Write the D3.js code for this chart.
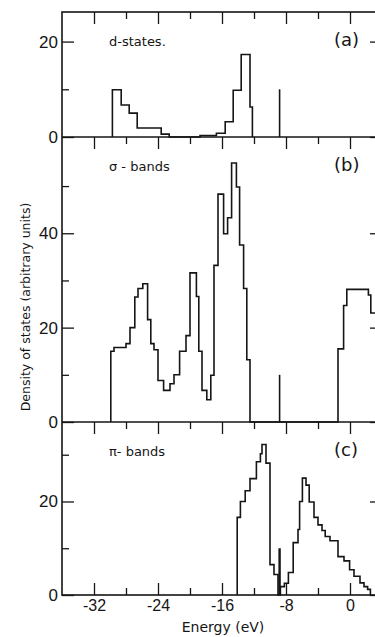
<!DOCTYPE html>
<html lang="en">
<head>
<meta charset="UTF-8">
<title>Density of states</title>
<style>
  body { margin: 0; background: #fff; }
  svg { display: block; font-family: "DejaVu Sans", sans-serif; }
  .frame, .hist { fill: none; stroke: #151515; stroke-width: 1.6px; }
  .spike { stroke: #151515; stroke-width: 1.6px; }
  .tick line { stroke: #151515; stroke-width: 1.3px; }
  .tick text { fill: #151515; }
  .domain { display: none; }
  .lbl { fill: #151515; }
</style>
</head>
<body>
<div id="chart"></div>
<script src="https://cdn.jsdelivr.net/npm/d3@7/dist/d3.min.js"></script>
<script>
// (a) d-states : bin edges (eV) and heights
const dEdges  = [-29.7, -28.6, -27.6, -26.6, -23.6, -22.6, -18.75, -16.7, -15.6, -14.6, -13.6, -12.5, -12.2];
const dValues = [9.9, 6.7, 5.0, 1.9, 0.6, 0, 0.3, 0.8, 3.2, 9.8, 17.3, 6.3];

// (b) sigma bands
const sigmaEdges = [-29.9, -29.5, -28.0, -27.5, -26.9, -26.5, -25.9, -25.3, -24.9, -24.5, -24.0,
  -23.3, -22.5, -22.0, -21.3, -20.5, -20.0, -19.2, -18.9, -18.5, -17.9, -17.4, -17.0, -16.5,
  -15.8, -15.3, -14.8, -14.2, -13.8, -13.3, -12.9, -12.5, -1.5, -0.8, -0.4, 2.3, 2.6, 4];
const sigmaValues = [15, 15.8, 16.6, 20, 26.5, 28.3, 29.3, 21.7, 16.6, 15.3, 8.8, 6.7, 8.1, 10,
  15, 18.3, 31.6, 26.6, 15, 6.7, 4.7, 9.9, 33.2, 48.3, 39.9, 43.3, 54.9, 49.8, 37.5, 28.3, 13.2,
  0, 15.5, 24.7, 28.1, 26.9, 23.1];

// (c) pi bands
const piEdges = [-14.1, -13.7, -13.1, -12.5, -11.7, -11.2, -11.0, -10.5, -10.0, -9.5, -9.0, -8.7,
  -8.2, -7.7, -7.1, -6.5, -6.3, -5.95, -5.5, -5.1, -4.5, -4.0, -3.5, -3.1, -2.5, -1.5, -0.75,
  -0.05, 0.5, 1.25, 1.75, 2.2, 2.55];
const piValues = [16.6, 20, 22.3, 24.9, 28.5, 30.2, 32.2, 28.2, 6.5, 4.4, 0, 1.8, 2.5, 4.8, 11.2,
  14, 20, 25, 23.5, 19.9, 16.6, 15.0, 13.8, 12.5, 11.6, 8.2, 7.3, 5.4, 4.0, 2.6, 1.8, 1.2];

// sharp line drawn in every panel
const spikeE = -8.8;
const spikeHeights = [10, 10, 10];

// ticks
const xMajor = [-32, -24, -16, -8, 0];
const xMinor = [-28, -20, -12, -4];
const xLabels = ["-32", "-24", "-16", "-8", "0"];
const yMax = [26.2, 60.4, 37];
const yMajor = [[0, 20], [0, 20, 40], [0, 20]];
const yMinor = [[10], [10, 30, 50], [10, 30]];
const panelNames = ["d-states.", "σ - bands", "π- bands"];
const panelTags = ["(a)", "(b)", "(c)"];

const width = 375, height = 637;
const left = 62, right = 382;
const rows = [[12, 137], [137, 422], [422, 595]];

const svg = d3.select("#chart").append("svg")
  .attr("width", width)
  .attr("height", height);

const x = d3.scaleLinear().domain([-36, 4]).range([left, right]);

const series = [[dEdges, dValues], [sigmaEdges, sigmaValues], [piEdges, piValues]];

series.forEach(([edges, vals], i) => {
  const [top, bottom] = rows[i];
  const y = d3.scaleLinear().domain([0, yMax[i]]).range([bottom, top]);
  const g = svg.append("g");

  // step outline of the histogram
  const pts = [[edges[0], 0]];
  vals.forEach((v, k) => pts.push([edges[k], v]));
  pts.push([edges[edges.length - 1], 0]);
  const line = d3.line()
    .x(d => x(d[0]))
    .y(d => y(d[1]))
    .curve(d3.curveStepAfter);
  g.append("path").attr("class", "hist").attr("d", line(pts));

  g.append("line").attr("class", "spike")
    .attr("x1", x(spikeE)).attr("x2", x(spikeE))
    .attr("y1", y(0)).attr("y2", y(spikeHeights[i]))
    .style("stroke-width", i === 2 ? 2.4 : 1.6);

  // x ticks at the top of each panel, pointing down
  g.append("g").attr("transform", `translate(0,${top})`)
    .call(d3.axisBottom(x).tickValues(xMajor).tickSize(12).tickFormat(""));
  g.append("g").attr("transform", `translate(0,${top})`)
    .call(d3.axisBottom(x).tickValues(xMinor).tickSize(7).tickFormat(""));

  // y ticks, inside on both sides
  g.append("g").attr("transform", `translate(${left},0)`)
    .call(d3.axisLeft(y).tickValues(yMajor[i]).tickSizeInner(-12).tickSizeOuter(0)
      .tickPadding(4).tickFormat(d3.format("d")))
    .selectAll("text").style("font-size", "17px");
  g.append("g").attr("transform", `translate(${left},0)`)
    .call(d3.axisLeft(y).tickValues(yMinor[i]).tickSizeInner(-7).tickFormat(""));
  g.append("g").attr("transform", `translate(${right},0)`)
    .call(d3.axisRight(y).tickValues(yMajor[i]).tickSizeInner(-12).tickFormat(""));
  g.append("g").attr("transform", `translate(${right},0)`)
    .call(d3.axisRight(y).tickValues(yMinor[i]).tickSizeInner(-7).tickFormat(""));

  g.append("text").attr("class", "lbl")
    .attr("x", 109).attr("y", top + 34)
    .style("font-size", "13px")
    .text(panelNames[i]);
  g.append("text").attr("class", "lbl")
    .attr("x", 334).attr("y", top + 34)
    .style("font-size", "18px")
    .text(panelTags[i]);
});

// bottom axis with labels
svg.append("g").attr("transform", `translate(0,${rows[2][1]})`)
  .call(d3.axisBottom(x).tickValues(xMajor).tickSizeInner(-12).tickSizeOuter(0)
    .tickPadding(5).tickFormat((d, k) => xLabels[k]))
  .selectAll("text").style("font-size", "16px");
svg.append("g").attr("transform", `translate(0,${rows[2][1]})`)
  .call(d3.axisBottom(x).tickValues(xMinor).tickSizeInner(-7).tickFormat(""));

// frame and panel dividers
svg.append("rect").attr("class", "frame")
  .attr("x", left).attr("y", rows[0][0])
  .attr("width", right - left).attr("height", rows[2][1] - rows[0][0]);
[rows[0][1], rows[1][1]].forEach(yy => {
  svg.append("line").attr("class", "frame")
    .attr("x1", left).attr("x2", right).attr("y1", yy).attr("y2", yy);
});

svg.append("text").attr("class", "lbl")
  .attr("transform", "translate(30,307) rotate(-90)")
  .attr("text-anchor", "middle")
  .style("font-size", "12.5px")
  .text("Density of states (arbitrary units)");

svg.append("text").attr("class", "lbl")
  .attr("x", 223).attr("y", 632)
  .attr("text-anchor", "middle")
  .style("font-size", "14px")
  .text("Energy (eV)");
</script>
</body>
</html>
